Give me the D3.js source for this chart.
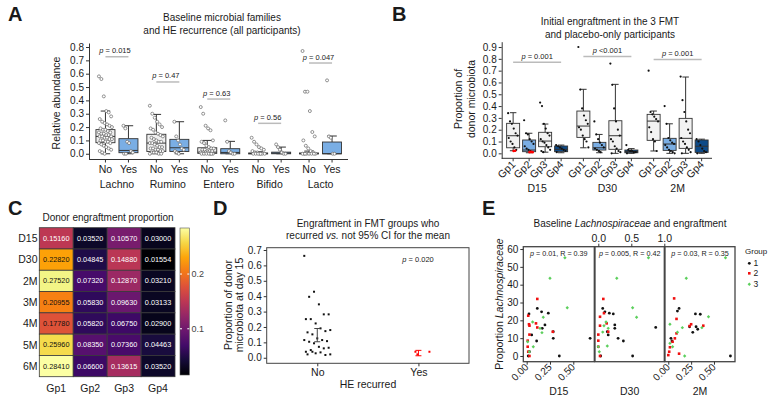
<!DOCTYPE html>
<html>
<head>
<meta charset="utf-8">
<script src="https://cdn.jsdelivr.net/npm/d3@7"></script>
<style>
body { margin: 0; background: #fff; }
svg { font-family: "Liberation Sans", Arial, sans-serif; }
</style>
</head>
<body>
<svg id="fig" width="769" height="400"></svg>
<script>
// ---------- panel A : baseline families ----------
const familiesA = ["Lachno", "Rumino", "Entero", "Bifido", "Lacto"];
const recurLevels = ["No", "Yes"];
// box stats, order: Lachno No, Lachno Yes, Rumino No, ...
const q1A  = [0.083, 0.008, 0.017, 0.017, 0.003, 0.0,   0.0,   0.0,   0.0,   0.0];
const medA = [0.13,  0.025, 0.08,  0.045, 0.012, 0.01,  0.002, 0.005, 0.002, 0.0];
const q3A  = [0.181, 0.113, 0.146, 0.108, 0.045, 0.038, 0.006, 0.012, 0.006, 0.088];
const loA  = [0, 0, 0, 0, 0, 0, 0, 0, 0, 0];
const hiA  = [0.32, 0.21, 0.295, 0.24, 0.1, 0.093, 0.015, 0.05, 0.02, 0.133];
const lachnoNo = [0.58,0.56,0.43,0.32,0.31,0.28,0.26,0.24,0.23,0.22,0.21,0.2,0.19,0.18,0.18,0.17,0.16,0.16,0.15,0.15,0.14,0.14,0.13,0.13,0.13,0.12,0.12,0.11,0.11,0.1,0.1,0.09,0.09,0.08,0.08,0.07,0.06,0.05,0.04,0.03,0.02,0.01,0.0];
const lachnoYes = [0.21,0.19,0.09,0.08,0.02,0.01,0.0,0.0];
const ruminoNo = [0.36,0.3,0.27,0.24,0.22,0.2,0.19,0.18,0.16,0.15,0.14,0.13,0.12,0.11,0.1,0.09,0.09,0.08,0.08,0.07,0.06,0.05,0.05,0.04,0.04,0.03,0.03,0.02,0.02,0.01,0.01,0.01,0.0,0.0,0.0];
const ruminoYes = [0.24,0.13,0.1,0.07,0.04,0.03,0.02,0.01,0.0];
const enteroNo = [0.35,0.30,0.21,0.19,0.176,0.1,0.09,0.08,0.06,0.05,0.04,0.04,0.03,0.03,0.02,0.02,0.02,0.01,0.01,0.01,0.01,0.0,0.0,0.0,0.0,0.0,0.0,0.0];
const enteroYes = [0.25,0.09,0.02,0.01,0.0,0.0];
const bifidoNo = [0.12,0.09,0.07,0.05,0.04,0.03,0.02,0.01,0.01,0.0,0.0,0.0,0.0,0.0,0.0,0.0];
const bifidoYes = [0.07,0.05,0.03,0.01,0.0,0.0];
const lactoNo = [0.77,0.465,0.465,0.32,0.163,0.13,0.1,0.06,0.04,0.02,0.01,0.0,0.0,0.0,0.0,0.0,0.0,0.0,0.0];
const lactoYes = [0.55,0.13,0.12,0.0,0.0];
const pValsA = ["0.015", "0.47", "0.63", "0.56", "0.047"];
const pBarA = [0.727, 0.538, 0.41, 0.228, 0.68];

// ---------- panel B : initial engraftment ----------
const stagesB = ["D15", "D30", "2M"];
const groupsB = ["Gp1", "Gp2", "Gp3", "Gp4"];
const q1B  = [0.047,0.014,0.056,0.014, 0.135,0.028,0.034,0.005, 0.11,0.025,0.042,0.008];
const medB = [0.149,0.028,0.104,0.034, 0.231,0.047,0.149,0.015, 0.273,0.079,0.127,0.06];
const q3B  = [0.254,0.113,0.178,0.062, 0.358,0.093,0.276,0.028, 0.33,0.127,0.296,0.113];
const loB  = [0.022,0.005,0.01,0.005, 0.047,0.005,0.0,0.0, 0.02,0.0,0.0,0.0];
const hiB  = [0.344,0.17,0.248,0.07, 0.542,0.16,0.584,0.04, 0.358,0.25,0.646,0.12];
const d15Gp1 = [0.34,0.27,0.25,0.21,0.17,0.15,0.13,0.1,0.08,0.05,0.03];
const d15Gp2 = [0.28,0.17,0.16,0.12,0.1,0.08,0.06,0.04,0.03,0.02];
const d15Gp3 = [0.43,0.40,0.25,0.21,0.17,0.15,0.12,0.1,0.09,0.07,0.05,0.03,0.02,0.01];
const d15Gp4 = [0.07,0.06,0.05,0.04,0.03,0.02,0.01];
const d30Gp1 = [0.90,0.54,0.38,0.32,0.28,0.25,0.22,0.2,0.15,0.12,0.1,0.05];
const d30Gp2 = [0.27,0.16,0.12,0.09,0.07,0.05,0.04,0.03,0.02,0.01];
const d30Gp3 = [0.76,0.58,0.38,0.27,0.2,0.15,0.12,0.1,0.06,0.04,0.02,0.01,0.0];
const d30Gp4 = [0.07,0.03,0.02,0.02,0.01,0.01,0.0];
const m2Gp1 = [0.70,0.35,0.33,0.31,0.29,0.27,0.22,0.18,0.12,0.1,0.02];
const m2Gp2 = [0.40,0.25,0.13,0.11,0.09,0.08,0.07,0.05,0.03,0.02,0.01,0.0];
const m2Gp3 = [0.65,0.45,0.35,0.27,0.2,0.17,0.13,0.1,0.08,0.05,0.03,0.01,0.0];
const m2Gp4 = [0.12,0.1,0.07,0.04,0.02,0.01,0.0];
const redD15Gp1 = [0.02, 0.022];
const redD15Gp2 = [0.01, 0.012, 0.01];
const pValsB = ["p = 0.001", "p <0.001", "p = 0.001"];
const pBarB = [0.77, 0.82, 0.795];

// ---------- panel C : heatmap ----------
const rowsC = ["D15", "D30", "2M", "3M", "4M", "5M", "6M"];
const colsC = ["Gp1", "Gp2", "Gp3", "Gp4"];
const engGp1 = [0.15160, 0.22820, 0.27520, 0.20955, 0.17780, 0.25960, 0.28410];
const engGp2 = [0.03520, 0.04845, 0.07320, 0.05830, 0.05820, 0.08350, 0.06600];
const engGp3 = [0.10570, 0.14880, 0.12870, 0.09630, 0.06750, 0.07360, 0.13615];
const engGp4 = [0.03000, 0.01554, 0.03210, 0.03133, 0.02900, 0.04463, 0.03520];

// ---------- panel D : recurred vs not ----------
const recurNoD = [0.662,0.396,0.429,0.347,0.282,0.282,0.251,0.251,0.223,0.191,0.173,0.18,0.165,0.152,0.126,0.115,0.108,0.115,0.104,0.094,0.071,0.061,0.065,0.039,0.05,0.029,0.035,0.018,0.022,0.022,0.039];
const recurYesD = [0.039, 0.022, 0.039];
const ciNoD = [0.104, 0.19];
const ciYesD = [0.013, 0.048];

// ---------- panel E : Lachnospiraceae vs engraftment ----------
const facetsE = ["D15", "D30", "2M"];
const e15g1 = [[0.114,26.7],[0.025,23.6],[0.16,24.8],[0.232,24],[0.196,17.4],[0.167,15.5],[0.054,11.8],[0.107,8.4],[0.285,13.6],[0.285,9.9],[0.35,0],[0.68,9.9],[0.03,2.4],[0.017,0]];
const e15g2 = [[0.114,32],[0.017,22.6],[0.025,17.8],[0.03,17],[0.1,18.3],[0.28,13.6],[0.03,12],[0.114,16],[0.011,8.6],[0.011,5.2],[0.017,2.4],[0.03,0]];
const e15g3 = [[0.41,55.1],[0.25,43.6],[0.435,27.1],[0.178,21.7],[0.064,19.1],[0.143,15.5],[0.164,13.1],[0.071,5.2],[0.011,8],[0.028,2.4]];
const e30g1 = [[0.067,26.7],[0.1,24.8],[0.167,24],[0.227,23.6],[0.25,17.4],[0.25,15.5],[0.136,13.6],[0.15,11.8],[0.30,9.9],[0.38,8.4],[0.87,16],[0.52,0],[0.036,0]];
const e30g2 = [[0.076,32],[0.086,24],[0.026,22],[0.026,17],[0.127,18.3],[0.15,13.6],[0.0,12],[0.0,8.6],[0.0,5.2],[0.026,0]];
const e30g3 = [[0.76,55.1],[0.28,43.6],[0.52,27.1],[0.58,21.7],[0.117,19.1],[0.086,17],[0.15,15.5],[0.067,13.4],[0.0,5.2],[0.015,2.4],[0.136,5.6]];
const e2mg1 = [[0.118,26.7],[0.1,25.2],[0.297,23.6],[0.35,23.4],[0.233,16.4],[0.304,16.4],[0.322,15],[0.268,13.3],[0.029,9.9],[0.04,8.4],[0.68,0]];
const e2mg2 = [[0.064,32.3],[0.09,20.8],[0.233,16.8],[0.25,17.8],[0.383,17],[0.09,12.7],[0.072,9.9],[0.047,8],[0.018,4.9],[0.01,2.4],[0.118,1.3],[0.0,0.5]];
const e2mg3 = [[0.626,55.1],[0.197,43.6],[0.44,22],[0.368,15.9],[0.154,15.9],[0.1,13.3],[0.018,17.8],[0.047,5.2],[0.018,7.1],[0.179,0]];
const statsE = ["0.01, R = 0.39", "0.005, R = 0.42", "0.03, R = 0.35"];

// ======================================================
const svg = d3.select("#fig");
svg.append("rect").attr("width", 769).attr("height", 400).attr("fill", "#fff");
const ink = "#1a1a1a";

function text(x, y, str, size, anchor) {
  return svg.append("text")
    .attr("x", x).attr("y", y)
    .attr("font-size", size)
    .attr("text-anchor", anchor || "middle")
    .attr("fill", ink)
    .text(str);
}
function vtext(x, y, size) {
  return svg.append("text")
    .attr("transform", "translate(" + x + "," + y + ") rotate(-90)")
    .attr("font-size", size)
    .attr("text-anchor", "middle")
    .attr("fill", ink);
}
function pText(x, y, rest, size) {
  const t = svg.append("text").attr("x", x).attr("y", y).attr("font-size", size)
    .attr("text-anchor", "middle").attr("fill", ink);
  t.append("tspan").attr("font-style", "italic").text("p");
  t.append("tspan").text(rest);
  return t;
}
function styleAxis(g, size) {
  g.selectAll("path, line").attr("stroke", "#333").attr("stroke-width", 1);
  g.selectAll("text").attr("fill", ink).attr("font-size", size)
    .attr("font-family", "Liberation Sans, Arial, sans-serif");
}
// deterministic spread for jittered points
function spread(i, w) {
  return (((i * 37) % 17) / 16 - 0.5) * 2 * w;
}
function drawBox(cx, w, s, yS, fill, stroke) {
  const g = svg.append("g");
  g.append("line").attr("x1", cx).attr("x2", cx).attr("y1", yS(s.hi)).attr("y2", yS(s.q3))
    .attr("stroke", stroke).attr("stroke-width", 1);
  g.append("line").attr("x1", cx).attr("x2", cx).attr("y1", yS(s.lo)).attr("y2", yS(s.q1))
    .attr("stroke", stroke).attr("stroke-width", 1);
  [s.hi, s.lo].forEach(v => {
    g.append("line").attr("x1", cx - w / 4).attr("x2", cx + w / 4)
      .attr("y1", yS(v)).attr("y2", yS(v)).attr("stroke", stroke).attr("stroke-width", 1);
  });
  g.append("rect").attr("x", cx - w / 2).attr("width", w)
    .attr("y", yS(s.q3)).attr("height", Math.max(1, yS(s.q1) - yS(s.q3)))
    .attr("fill", fill).attr("stroke", stroke).attr("stroke-width", 0.9);
  g.append("line").attr("x1", cx - w / 2).attr("x2", cx + w / 2)
    .attr("y1", yS(s.med)).attr("y2", yS(s.med)).attr("stroke", stroke).attr("stroke-width", 1);
}

// ---------------- Panel A ----------------
text(8, 21, "A", 20, "start").attr("font-weight", "bold");
text(222, 20.5, "Baseline microbial families", 10);
text(222, 33.5, "and HE recurrence (all participants)", 10);
vtext(59.5, 103, 10.5).text("Relative abundance");

const xA = d3.scaleBand().domain(familiesA).range([91.5, 346]);
const subA = d3.scaleBand().domain(recurLevels).range([-23, 23]);
const yA = d3.scaleLinear().domain([-0.043, 0.83]).range([159.5, 43]);
const ptsA = [lachnoNo, lachnoYes, ruminoNo, ruminoYes, enteroNo, enteroYes, bifidoNo, bifidoYes, lactoNo, lactoYes];

styleAxis(svg.append("g").attr("transform", "translate(89,0)")
  .call(d3.axisLeft(yA).tickValues(d3.range(0, 0.81, 0.1)).tickFormat(d3.format(".1f"))
    .tickSize(3).tickSizeOuter(0).tickPadding(2)), 10);
svg.append("line").attr("x1", 89).attr("x2", 348).attr("y1", 159.5).attr("y2", 159.5)
  .attr("stroke", "#333");

function cxA(i) {
  const fam = familiesA[Math.floor(i / 2)], rec = recurLevels[i % 2];
  return xA(fam) + xA.bandwidth() / 2 + subA(rec) + subA.bandwidth() / 2;
}
ptsA.forEach((vals, i) => {
  const cx = cxA(i);
  const yes = i % 2 === 1;
  drawBox(cx, 19, {q1: q1A[i], med: medA[i], q3: q3A[i], lo: loA[i], hi: hiA[i]}, yA,
    yes ? "#7aaee4" : "#efefef", "#333");
  svg.append("line").attr("x1", cx).attr("x2", cx).attr("y1", 159.5).attr("y2", 162.5).attr("stroke", "#333");
  text(cx, 173, recurLevels[i % 2], 10.5);
  svg.append("g").selectAll("circle").data(vals).join("circle")
    .attr("cx", (d, j) => cx + spread(j, yes ? 5 : 6.5))
    .attr("cy", d => yA(d))
    .attr("r", 1.5)
    .attr("fill", "#fff").attr("stroke", "#666").attr("stroke-width", 0.7);
});
familiesA.forEach((f, k) => {
  const mid = xA(f) + xA.bandwidth() / 2;
  text(mid, 188, f, 10.5);
  const y = yA(pBarA[k]);
  svg.append("line").attr("x1", cxA(2 * k)).attr("x2", cxA(2 * k + 1)).attr("y1", y).attr("y2", y)
    .attr("stroke", "#bbb").attr("stroke-width", 1.5);
  pText(mid - 2, y - 3.5, " = " + pValsA[k], 7.5);
});

// ---------------- Panel B ----------------
text(392, 21, "B", 20, "start").attr("font-weight", "bold");
text(610, 25, "Initial engraftment in the 3 FMT", 10);
text(610, 37.5, "and placebo-only participants", 10);
vtext(462, 99, 10.5).text("Proportion of");
vtext(475, 99, 10.5).text("donor microbiota");

const xB = d3.scaleBand().domain(stagesB).range([502, 712.75]);
const subB = d3.scaleBand().domain(groupsB).range([-32, 32]);
const yB = d3.scaleLinear().domain([-0.042, 0.945]).range([158.3, 41.7]);
const ptsB = [d15Gp1, d15Gp2, d15Gp3, d15Gp4, d30Gp1, d30Gp2, d30Gp3, d30Gp4, m2Gp1, m2Gp2, m2Gp3, m2Gp4];
const fillB = {Gp1: "#f2f2f2", Gp2: "#7aaee4", Gp3: "#f2f2f2", Gp4: "#0d4a88"};

styleAxis(svg.append("g").attr("transform", "translate(501.7,0)")
  .call(d3.axisLeft(yB).tickValues(d3.range(0, 0.91, 0.1)).tickFormat(d3.format(".1f"))
    .tickSize(3).tickSizeOuter(0).tickPadding(2)), 10);
svg.append("line").attr("x1", 501.7).attr("x2", 712).attr("y1", 158.3).attr("y2", 158.3).attr("stroke", "#333");

function cxB(i) {
  return xB(stagesB[Math.floor(i / 4)]) + xB.bandwidth() / 2 + subB(groupsB[i % 4]) + subB.bandwidth() / 2;
}
ptsB.forEach((vals, i) => {
  const cx = cxB(i), gp = groupsB[i % 4];
  drawBox(cx, 13, {q1: q1B[i], med: medB[i], q3: q3B[i], lo: loB[i], hi: hiB[i]}, yB, fillB[gp], "#333");
  svg.append("line").attr("x1", cx).attr("x2", cx).attr("y1", 158.3).attr("y2", 161.3).attr("stroke", "#333");
  svg.append("text").attr("transform", "translate(" + (cx + 3) + ",165) rotate(-45)")
    .attr("text-anchor", "end").attr("font-size", 10.5).attr("fill", ink).text(gp);
  svg.append("g").selectAll("circle").data(vals).join("circle")
    .attr("cx", (d, j) => cx + spread(j, 5))
    .attr("cy", d => yB(d))
    .attr("r", 1.1).attr("fill", "#111");
});
[[0, redD15Gp1], [1, redD15Gp2]].forEach(([i, vals]) => {
  svg.append("g").selectAll("circle").data(vals).join("circle")
    .attr("cx", (d, j) => cxB(i) + spread(j + 3, 4))
    .attr("cy", d => yB(d)).attr("r", 1.3).attr("fill", "#f00");
});
stagesB.forEach((s, k) => {
  const mid = xB(s) + xB.bandwidth() / 2;
  text(mid, 192, s, 10.5);
  const y = yB(pBarB[k]);
  svg.append("line").attr("x1", cxB(4 * k)).attr("x2", cxB(4 * k + 3)).attr("y1", y).attr("y2", y)
    .attr("stroke", "#bbb").attr("stroke-width", 1.5);
  pText(mid, y - 3.5, pValsB[k].slice(1), 7.5);
});

// ---------------- Panel C ----------------
text(8, 215, "C", 20, "start").attr("font-weight", "bold");
text(108, 221, "Donor engraftment proportion", 10);
const colVals = [engGp1, engGp2, engGp3, engGp4];
const allC = colVals.flat();
const color = d3.scaleSequential(d3.interpolateInferno).domain(d3.extent(allC));
const xC = d3.scaleBand().domain(colsC).range([39.3, 175]);
const yC = d3.scaleBand().domain(rowsC).range([227.7, 376.7]);
colsC.forEach((c, ci) => {
  rowsC.forEach((r, ri) => {
    const v = colVals[ci][ri];
    svg.append("rect").attr("x", xC(c)).attr("y", yC(r))
      .attr("width", xC.bandwidth()).attr("height", yC.bandwidth())
      .attr("fill", color(v)).attr("stroke", "#3a3a3a").attr("stroke-width", 0.8);
    text(xC(c) + xC.bandwidth() / 2, yC(r) + yC.bandwidth() / 2 + 2.5, d3.format(".5f")(v), 7.3)
      .attr("fill", v > 0.16 ? "#111" : "#fff");
  });
});
rowsC.forEach(r => text(37.5, yC(r) + yC.bandwidth() / 2 + 3.8, r, 10.5, "end"));
colsC.forEach(c => text(xC(c) + xC.bandwidth() / 2, 392, c, 10.5));

const grad = svg.append("defs").append("linearGradient").attr("id", "infernoBar")
  .attr("x1", 0).attr("x2", 0).attr("y1", 1).attr("y2", 0);
d3.range(0, 1.01, 0.1).forEach(t => {
  grad.append("stop").attr("offset", t).attr("stop-color", d3.interpolateInferno(t));
});
const yBar = d3.scaleLinear().domain(d3.extent(allC)).range([375, 228]);
svg.append("rect").attr("x", 180).attr("y", 228).attr("width", 9.3).attr("height", 147)
  .attr("fill", "url(#infernoBar)").attr("stroke", "#555").attr("stroke-width", 0.6);
[0.1, 0.2].forEach(v => {
  const y = yBar(v);
  svg.append("line").attr("x1", 180).attr("x2", 182).attr("y1", y).attr("y2", y).attr("stroke", "#fff");
  svg.append("line").attr("x1", 187.3).attr("x2", 189.3).attr("y1", y).attr("y2", y).attr("stroke", "#fff");
  text(191.5, y + 3.2, d3.format(".1f")(v), 9, "start").attr("fill", "#444");
});

// ---------------- Panel D ----------------
text(213, 215, "D", 20, "start").attr("font-weight", "bold");
text(368, 226.7, "Engraftment in FMT groups who", 10);
const tD = text(368, 239.3, "", 10);
tD.append("tspan").text("recurred ");
tD.append("tspan").attr("font-style", "italic").text("vs.");
tD.append("tspan").text(" not 95% CI for the mean");
vtext(231.7, 305, 10.5).text("Proportion of donor");
vtext(243, 305, 10.5).text("microbiota at day 15");

const xD = d3.scalePoint().domain(recurLevels).range([266.7, 469]).padding(0.5);
const yD = d3.scaleLinear().domain([-0.036, 0.715]).range([363.3, 247.7]);
svg.append("rect").attr("x", 266.7).attr("y", 247.7).attr("width", 202.3).attr("height", 115.6)
  .attr("fill", "none").attr("stroke", "#444").attr("stroke-width", 1);
const axD = svg.append("g").attr("transform", "translate(266.7,0)")
  .call(d3.axisLeft(yD).tickValues(d3.range(0, 0.71, 0.1)).tickFormat(d3.format(".1f"))
    .tickSize(3).tickSizeOuter(0).tickPadding(2));
axD.select(".domain").remove();
styleAxis(axD, 10);
const axDx = svg.append("g").attr("transform", "translate(0,363.3)")
  .call(d3.axisBottom(xD).tickSize(3).tickSizeOuter(0).tickPadding(2));
axDx.select(".domain").remove();
styleAxis(axDx, 10.5);
text(368, 387.7, "HE recurred", 10.5);
pText(418, 261.5, " = 0.020", 7.5);

svg.append("g").selectAll("rect").data(recurNoD).join("rect")
  .attr("x", (d, j) => xD("No") + spread(j, 13) - 1).attr("y", d => yD(d) - 1)
  .attr("width", 2).attr("height", 2).attr("fill", "#111");
svg.append("g").selectAll("rect").data(recurYesD).join("rect")
  .attr("x", (d, j) => xD("Yes") + [-3, -1, 11][j] - 1).attr("y", d => yD(d) - 1)
  .attr("width", 2).attr("height", 2).attr("fill", "#f00");
[[xD("No"), ciNoD, "#444"], [xD("Yes"), ciYesD, "#f00"]].forEach(([x, ci, col]) => {
  svg.append("line").attr("x1", x).attr("x2", x).attr("y1", yD(ci[0])).attr("y2", yD(ci[1])).attr("stroke", col);
  ci.forEach(v => svg.append("line").attr("x1", x - 3).attr("x2", x + 3)
    .attr("y1", yD(v)).attr("y2", yD(v)).attr("stroke", col));
});

// ---------------- Panel E ----------------
text(482, 215, "E", 20, "start").attr("font-weight", "bold");
const tE = text(630, 226.7, "", 10);
tE.append("tspan").text("Baseline ");
tE.append("tspan").attr("font-style", "italic").text("Lachnospiraceae");
tE.append("tspan").text(" and engraftment");
const yTitleE = vtext(502.7, 304, 10.5);
yTitleE.append("tspan").text("Proportion ");
yTitleE.append("tspan").attr("font-style", "italic").text("Lachnospiraceae");

const yE = d3.scaleLinear().domain([-3.2, 61.3]).range([361.7, 246.7]);
const panelsE = [
  {x: d3.scaleLinear().domain([-0.036, 0.725]).range([523.3, 594.3]), data: [e15g1, e15g2, e15g3]},
  {x: d3.scaleLinear().domain([-0.05, 1.0]).range([595, 664.3]), data: [e30g1, e30g2, e30g3]},
  {x: d3.scaleLinear().domain([-0.036, 0.73]).range([665, 735]), data: [e2mg1, e2mg2, e2mg3]}
];
const groupCol = ["#111", "#f01010", "#5ccf5c"];

function markE(g, x, y, k) {
  if (k === 0) {
    g.append("circle").attr("cx", x).attr("cy", y).attr("r", 1.4).attr("fill", groupCol[0]);
  } else if (k === 1) {
    g.append("rect").attr("x", x - 1.3).attr("y", y - 1.3).attr("width", 2.6).attr("height", 2.6).attr("fill", groupCol[1]);
  } else {
    g.append("path").attr("d", `M${x},${y - 1.7}L${x + 1.7},${y}L${x},${y + 1.7}L${x - 1.7},${y}Z`).attr("fill", groupCol[2]);
  }
}

panelsE.forEach((p, k) => {
  const [x0, x1] = p.x.range();
  svg.append("rect").attr("x", x0).attr("y", 246.7).attr("width", x1 - x0).attr("height", 115)
    .attr("fill", "none").attr("stroke", "#444").attr("stroke-width", 1.3);
  const gPts = svg.append("g");
  p.data.forEach((pts, gi) => pts.forEach(d => markE(gPts, p.x(d[0]), yE(d[1]), gi)));
  pText((x0 + x1) / 2, 256, " = " + statsE[k], 7.2);
  text((x0 + x1) / 2, 395, facetsE[k], 10.5);
  if (k === 1) {
    const ax = svg.append("g").attr("transform", "translate(0,246.7)")
      .call(d3.axisTop(p.x).tickValues([0, 0.5, 1.0]).tickFormat(d3.format(".1f")).tickSize(3).tickSizeOuter(0).tickPadding(1.5));
    ax.select(".domain").remove();
    styleAxis(ax, 10.5);
  } else {
    const ax = svg.append("g").attr("transform", "translate(0,361.7)")
      .call(d3.axisBottom(p.x).tickValues([0, 0.25, 0.5]).tickFormat(d3.format(".2f")).tickSize(3).tickSizeOuter(0));
    ax.select(".domain").remove();
    styleAxis(ax, 10);
    ax.selectAll(".tick text").attr("text-anchor", "end").attr("dy", null).attr("y", 0)
      .attr("transform", "translate(2,6) rotate(-45)");
  }
});
const axE = svg.append("g").attr("transform", "translate(523.3,0)")
  .call(d3.axisLeft(yE).tickValues(d3.range(0, 61, 10)).tickSize(3).tickSizeOuter(0).tickPadding(2));
axE.select(".domain").remove();
styleAxis(axE, 10);

text(745, 254.3, "Group", 8, "start");
[0, 1, 2].forEach(k => {
  const y = [263.3, 273.3, 284.3][k];
  markE(svg, 749.3, y, k);
  text(753.5, y + 3, String(k + 1), 8.5, "start");
});
</script>
</body>
</html>
